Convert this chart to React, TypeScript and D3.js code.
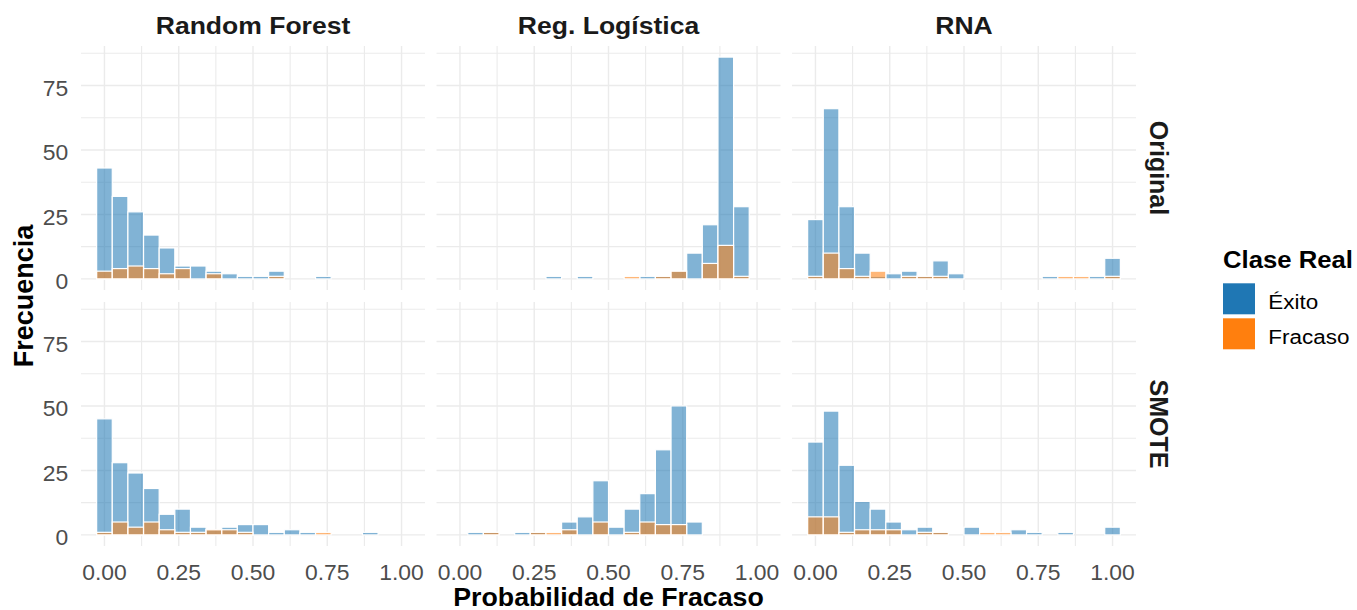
import React, { useEffect, useRef } from 'react';
import * as d3 from 'd3';

// Facets
const models = ['Random Forest', 'Reg. Logística', 'RNA'];
const datasets = ['Original', 'SMOTE'];
const classes = ['Éxito', 'Fracaso'];
const classColors = ['#1f77b4', '#ff7f0e'];

// Histogram: 20 bins over [0, 1] (bin i centred on i / 19)
const binCount = 20;

// Counts per bin
const rfOriginalExito = [43, 32, 26, 17, 12, 5, 5, 3, 2, 1, 1, 3, 0, 0, 1, 0, 0, 0, 0, 0];
const rfOriginalFracaso = [3, 4, 5, 4, 2, 4, 0, 2, 0, 0, 0, 1, 0, 0, 0, 0, 0, 0, 0, 0];
const rlOriginalExito = [0, 0, 0, 0, 0, 0, 1, 0, 1, 0, 0, 0, 1, 1, 3, 10, 21, 86, 28, 0];
const rlOriginalFracaso = [0, 0, 0, 0, 0, 0, 0, 0, 0, 0, 0, 1, 0, 1, 3, 0, 6, 13, 1, 0];
const rnaOriginalExito = [23, 66, 28, 10, 1, 2, 3, 1, 7, 2, 0, 0, 0, 0, 0, 1, 0, 0, 1, 8];
const rnaOriginalFracaso = [1, 10, 4, 1, 3, 0, 1, 1, 1, 0, 0, 0, 0, 0, 0, 0, 1, 1, 0, 1];

const rfSmoteExito = [45, 28, 24, 18, 8, 10, 3, 2, 3, 4, 4, 1, 2, 1, 0, 0, 0, 1, 0, 0];
const rfSmoteFracaso = [1, 5, 3, 5, 2, 1, 1, 2, 2, 1, 0, 0, 0, 0, 1, 0, 0, 0, 0, 0];
const rlSmoteExito = [0, 1, 1, 0, 1, 1, 0, 5, 7, 21, 3, 10, 16, 33, 50, 5, 0, 0, 0, 0];
const rlSmoteFracaso = [0, 0, 1, 0, 0, 1, 1, 2, 0, 5, 0, 1, 5, 4, 4, 0, 0, 0, 0, 0];
const rnaSmoteExito = [36, 48, 27, 13, 10, 5, 2, 3, 1, 0, 3, 0, 0, 2, 1, 0, 1, 0, 0, 3];
const rnaSmoteFracaso = [7, 7, 1, 2, 2, 2, 0, 1, 1, 0, 0, 1, 1, 0, 0, 0, 0, 0, 0, 0];

const xTicks = [0, 0.25, 0.5, 0.75, 1];
const xMinor = [0.125, 0.375, 0.625, 0.875];
const yTicks = [0, 25, 50, 75];
const yMinor = [12.5, 37.5, 62.5, 87.5];

const FONT = '"Liberation Sans", Arial, Helvetica, sans-serif';
const SX = 1.07; // text in the reference is slightly wide

type Panel = { model: string; dataset: string; counts: number[][] };

const App = () => {
  const svgRef = useRef<SVGSVGElement | null>(null);
  const width = 1357;
  const height = 610;

  useEffect(() => {
    const svg = d3.select(svgRef.current);
    svg.selectAll('*').remove();

    const panels: Panel[] = [
      { model: models[0], dataset: datasets[0], counts: [rfOriginalExito, rfOriginalFracaso] },
      { model: models[1], dataset: datasets[0], counts: [rlOriginalExito, rlOriginalFracaso] },
      { model: models[2], dataset: datasets[0], counts: [rnaOriginalExito, rnaOriginalFracaso] },
      { model: models[0], dataset: datasets[1], counts: [rfSmoteExito, rfSmoteFracaso] },
      { model: models[1], dataset: datasets[1], counts: [rlSmoteExito, rlSmoteFracaso] },
      { model: models[2], dataset: datasets[1], counts: [rnaSmoteExito, rnaSmoteFracaso] },
    ];

    // Layout
    const left = 81;
    const right = 1136;
    const gapX = 11.5;
    const top = 46;
    const panelH = 244;
    const gapY = 12;
    const panelW = (right - left - 2 * gapX) / 3;

    // Scales (ggplot style 5% expansion)
    const bw = 1 / (binCount - 1);
    const lo = -bw / 2;
    const hi = 1 + bw / 2;
    const padX = (hi - lo) * 0.05;
    const xScale = d3.scaleLinear().domain([lo - padX, hi + padX]).range([0, panelW]);

    const maxCount = d3.max(panels.flatMap(p => p.counts.flat())) as number;
    const yScale = d3.scaleLinear()
      .domain([-maxCount * 0.05, maxCount * 1.05])
      .range([panelH, 0]);

    const centers = d3.range(binCount).map(i => i * bw);

    svg.append('rect').attr('width', width).attr('height', height).attr('fill', '#ffffff');

    const addText = (parent: any, x: number, y: number, str: string, size: number,
      opts: { anchor?: string; weight?: string; fill?: string; rotate?: number; stretch?: boolean } = {}) => {
      const sx = opts.stretch === false ? 1 : SX;
      const g = parent.append('g')
        .attr('transform', `translate(${x},${y})${opts.rotate ? ` rotate(${opts.rotate})` : ''} scale(${sx},1)`);
      g.append('text')
        .attr('text-anchor', opts.anchor || 'start')
        .style('font-family', FONT)
        .style('font-size', `${size}px`)
        .style('font-weight', opts.weight || 'normal')
        .style('fill', opts.fill || '#000')
        .text(str);
    };

    panels.forEach((p, idx) => {
      const col = idx % 3;
      const row = Math.floor(idx / 3);
      const px = left + col * (panelW + gapX);
      const py = top + row * (panelH + gapY);
      const g = svg.append('g').attr('transform', `translate(${px},${py})`);

      // Grid
      g.selectAll('line.vminor').data(xMinor).join('line')
        .attr('x1', d => xScale(d)).attr('x2', d => xScale(d))
        .attr('y1', 0).attr('y2', panelH)
        .attr('stroke', '#ebebeb').attr('stroke-width', 1.1);
      g.selectAll('line.hminor').data(yMinor.filter(v => yScale(v) >= 0)).join('line')
        .attr('x1', 0).attr('x2', panelW)
        .attr('y1', d => yScale(d)).attr('y2', d => yScale(d))
        .attr('stroke', '#ebebeb').attr('stroke-width', 1.1);
      g.selectAll('line.vmajor').data(xTicks).join('line')
        .attr('x1', d => xScale(d)).attr('x2', d => xScale(d))
        .attr('y1', 0).attr('y2', panelH)
        .attr('stroke', '#ebebeb').attr('stroke-width', 1.4);
      g.selectAll('line.hmajor').data(yTicks).join('line')
        .attr('x1', 0).attr('x2', panelW)
        .attr('y1', d => yScale(d)).attr('y2', d => yScale(d))
        .attr('stroke', '#ebebeb').attr('stroke-width', 1.4);

      // Bars, Éxito first, Fracaso drawn over it
      p.counts.forEach((series, ci) => {
        const bins = centers.map((c, i) => ({ c, n: series[i] })).filter(b => b.n > 0);
        g.append('g').selectAll('rect').data(bins).join('rect')
          .attr('x', d => xScale(d.c - bw / 2))
          .attr('width', d => xScale(d.c + bw / 2) - xScale(d.c - bw / 2))
          .attr('y', d => yScale(d.n))
          .attr('height', d => yScale(0) - yScale(d.n))
          .attr('fill', classColors[ci])
          .attr('fill-opacity', 0.56)
          .attr('stroke', '#ffffff')
          .attr('stroke-width', 1.2);
      });

      // Strip labels
      if (row === 0) {
        addText(svg, px + panelW / 2, 34.3, p.model, 24.8, { anchor: 'middle', weight: 'bold', fill: '#1a1a1a' });
      }
      if (col === 2) {
        addText(svg, 1150, py + panelH / 2, p.dataset, 25, { anchor: 'middle', weight: 'bold', fill: '#1a1a1a', rotate: 90, stretch: false });
      }

      // Y tick labels
      if (col === 0) {
        yTicks.forEach(t => {
          addText(svg, 68.3, py + yScale(t) + 10.5, String(t), 21.4, { anchor: 'end', fill: '#4d4d4d' });
        });
      }

      // X tick labels
      if (row === 1) {
        xTicks.forEach(t => {
          addText(svg, px + xScale(t), 580, d3.format('.2f')(t), 21.4, { anchor: 'middle', fill: '#4d4d4d' });
        });
      }
    });

    // Axis titles
    addText(svg, (left + right) / 2, 605.5, 'Probabilidad de Fracaso', 25, { anchor: 'middle', weight: 'bold' });
    addText(svg, 33, top + panelH + gapY / 2, 'Frecuencia', 27, { anchor: 'middle', weight: 'bold', rotate: -90, stretch: false });

    // Legend
    addText(svg, 1223, 268.3, 'Clase Real', 24, { weight: 'bold' });
    const keyY = [283.3, 318.3];
    classes.forEach((c, i) => {
      svg.append('rect')
        .attr('x', 1223).attr('y', keyY[i])
        .attr('width', 32).attr('height', 31)
        .attr('fill', classColors[i]);
      addText(svg, 1268.3, keyY[i] + 15.5 + 10.6, c, 21, { fill: '#000' });
    });
  }, []);

  return (
    <svg
      ref={svgRef}
      width={width}
      height={height}
      style={{ position: 'absolute', left: 0, top: 0, display: 'block' }}
    />
  );
};

export default App;
